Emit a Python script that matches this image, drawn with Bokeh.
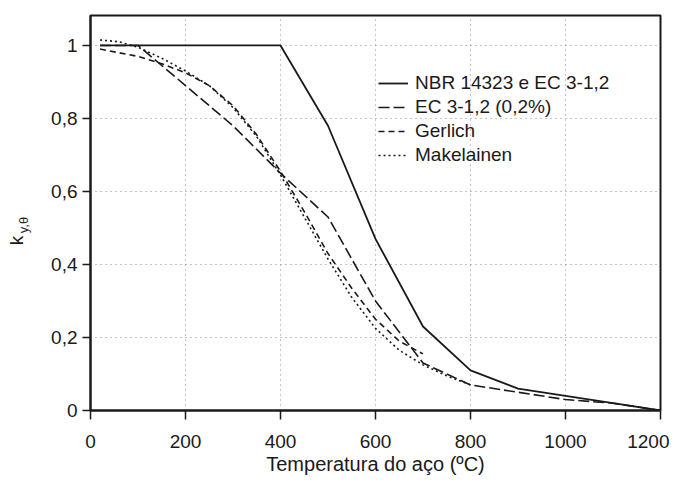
import math
from bokeh.plotting import figure
from bokeh.layouts import row
from bokeh.models import Range1d, FixedTicker, CustomJSTickFormatter, Legend, LegendItem, Label
from bokeh.embed import file_html
from bokeh.resources import INLINE

# --- data ---
temp_nbr = [20, 100, 200, 300, 400, 500, 600, 700, 800, 900, 1000, 1100, 1200]
k_nbr = [1.0, 1.0, 1.0, 1.0, 1.0, 0.78, 0.47, 0.23, 0.11, 0.06, 0.04, 0.02, 0.0]

temp_ec02 = [20, 100, 200, 300, 400, 500, 600, 700, 800, 900, 1000, 1100, 1200]
k_ec02 = [1.0, 1.0, 0.89, 0.78, 0.65, 0.53, 0.30, 0.13, 0.07, 0.05, 0.03, 0.02, 0.0]

temp_gerlich = [20, 100, 150, 200, 250, 300, 350, 400, 450, 500, 550, 600, 650, 700]
k_gerlich = [0.99, 0.97, 0.95, 0.925, 0.89, 0.835, 0.755, 0.655, 0.545, 0.43, 0.335, 0.25, 0.19, 0.155]

temp_mak = [20, 60, 100, 150, 200, 250, 300, 350, 400, 450, 500, 550, 600, 650, 700, 750, 800]
k_mak = [1.015, 1.01, 0.995, 0.965, 0.93, 0.89, 0.83, 0.75, 0.645, 0.53, 0.415, 0.31, 0.225, 0.165, 0.125, 0.095, 0.07]

x_ticks = [0, 200, 400, 600, 800, 1000, 1200]
y_ticks = [0, 0.2, 0.4, 0.6, 0.8, 1.0]

legend_labels = ["NBR 14323 e EC 3-1,2", "EC 3-1,2 (0,2%)", "Gerlich", "Makelainen"]
y_title_main = "k"
y_title_sub = "y,θ"
x_title = "Temperatura do aço (ºC)"

FONT = "Liberation Sans"
INK = "#1a1a1a"
W_LEFT = 40
H = 481

# ---- narrow strip on the left that carries the y-axis title k_{y,θ} ----
pl = figure(width=W_LEFT, height=H, output_backend="svg", toolbar_location=None,
            x_range=Range1d(0, W_LEFT), y_range=Range1d(0, H),
            x_axis_type=None, y_axis_type=None, min_border=0, title=None)
pl.outline_line_color = None
pl.grid.visible = False
pl.background_fill_color = "white"
pl.border_fill_color = "white"
pl.add_layout(Label(x=16, y=240, x_units="canvas", y_units="canvas", text=y_title_main,
                    angle=math.pi / 2, text_align="center", text_baseline="middle",
                    text_font=FONT, text_font_size="19px", text_color=INK))
pl.add_layout(Label(x=22.5, y=224.5, x_units="canvas", y_units="canvas", text=y_title_sub,
                    angle=math.pi / 2, text_align="center", text_baseline="middle",
                    text_font=FONT, text_font_size="13px", text_color=INK))

# ---- main chart ----
p = figure(width=669 - W_LEFT, height=H, output_backend="svg", toolbar_location=None,
           x_range=Range1d(0, 1200), y_range=Range1d(0, 1.082),
           min_border_left=90 - W_LEFT, min_border_right=9, min_border_top=15, min_border_bottom=71)

p.background_fill_color = "white"
p.border_fill_color = "white"
p.outline_line_color = INK
p.outline_line_width = 2

for g in (p.xgrid[0], p.ygrid[0]):
    g.grid_line_color = "#888888"
    g.grid_line_dash = "1 4"
    g.grid_line_width = 1
p.xgrid[0].ticker = FixedTicker(ticks=x_ticks[1:-1])
p.ygrid[0].ticker = FixedTicker(ticks=y_ticks[1:])

xa = p.xaxis[0]
ya = p.yaxis[0]
xa.ticker = FixedTicker(ticks=x_ticks)
ya.ticker = FixedTicker(ticks=y_ticks)
ya.formatter = CustomJSTickFormatter(code="""
if (Math.abs(tick) < 1e-9) return "0";
if (Math.abs(tick - 1) < 1e-9) return "1";
return tick.toFixed(1).replace('.', ',');
""")
for ax in (xa, ya):
    ax.axis_line_color = INK
    ax.axis_line_width = 2
    ax.major_tick_line_color = INK
    ax.major_tick_line_width = 1.5
    ax.major_tick_in = 0
    ax.minor_tick_line_color = None
    ax.major_label_text_font = FONT
    ax.major_label_text_font_size = "19px"
    ax.major_label_text_color = INK
xa.major_tick_out = 9
xa.major_label_standoff = 15
ya.major_tick_out = 8
ya.major_label_standoff = 5

xa.axis_label = x_title
xa.axis_label_text_font = FONT
xa.axis_label_text_font_size = "20px"
xa.axis_label_text_font_style = "normal"
xa.axis_label_text_color = INK
xa.axis_label_standoff = 2

r_nbr = p.line(temp_nbr, k_nbr, line_color=INK, line_width=1.8)
r_ec = p.line(temp_ec02, k_ec02, line_color=INK, line_width=1.6, line_dash="11 4")
r_ger = p.line(temp_gerlich, k_gerlich, line_color=INK, line_width=1.6, line_dash="6 4")
r_mak = p.line(temp_mak, k_mak, line_color=INK, line_width=1.6, line_dash="2 3")

legend = Legend(items=[LegendItem(label=legend_labels[0], renderers=[r_nbr]),
                       LegendItem(label=legend_labels[1], renderers=[r_ec]),
                       LegendItem(label=legend_labels[2], renderers=[r_ger]),
                       LegendItem(label=legend_labels[3], renderers=[r_mak])],
                location=(288, 243))
legend.border_line_color = None
legend.background_fill_alpha = 0
legend.padding = 0
legend.margin = 0
legend.spacing = 0
legend.glyph_width = 30
legend.glyph_height = 20
legend.label_height = 24
legend.label_standoff = 7
legend.label_text_font = FONT
legend.label_text_font_size = "19px"
legend.label_text_color = INK
p.add_layout(legend, "center")

layout = row(pl, p, spacing=0)
open("out.html", "w").write(file_html(layout, INLINE))
